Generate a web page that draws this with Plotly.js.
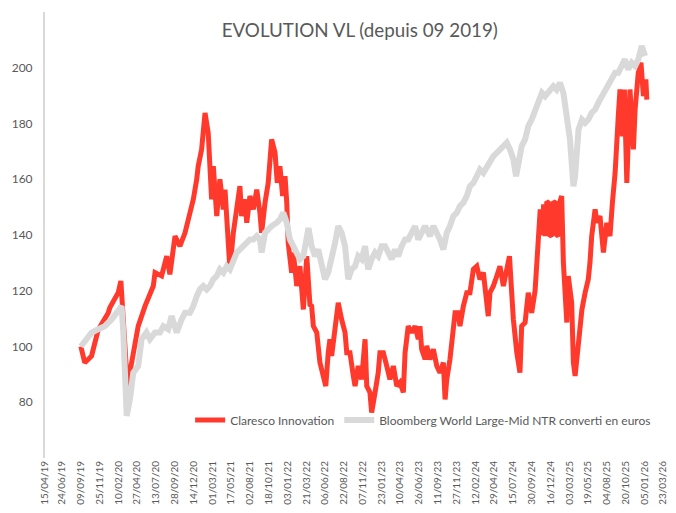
<!DOCTYPE html>
<html>
<head>
<meta charset="utf-8">
<script src="https://cdn.plot.ly/plotly-3.0.1.min.js"></script>
<style>
html,body{margin:0;padding:0;overflow:hidden;background:#fff;}
#chart{width:700px;height:513px;}
</style>
</head>
<body>
<div id="chart"></div>
<script>
// Claresco Innovation
const redDates = ["2019-09-09","2019-09-25","2019-10-23","2019-11-19","2019-12-30","2020-01-06","2020-02-09","2020-02-20","2020-03-18","2020-04-11","2020-05-01","2020-05-29","2020-07-02","2020-07-09","2020-08-05","2020-08-26","2020-09-08","2020-09-29","2020-10-19","2020-11-09","2020-11-22","2020-12-13","2020-12-27","2021-01-02","2021-01-16","2021-01-30","2021-02-12","2021-02-19","2021-02-26","2021-03-05","2021-03-19","2021-04-01","2021-04-15","2021-04-22","2021-05-05","2021-05-12","2021-05-26","2021-06-09","2021-06-22","2021-06-29","2021-07-13","2021-07-20","2021-08-02","2021-08-16","2021-08-30","2021-09-12","2021-09-19","2021-10-03","2021-10-16","2021-10-30","2021-11-13","2021-11-22","2021-12-03","2021-12-14","2021-12-24","2021-12-31","2022-01-06","2022-01-20","2022-01-27","2022-02-10","2022-02-23","2022-03-09","2022-03-23","2022-04-05","2022-04-12","2022-04-19","2022-05-03","2022-05-16","2022-05-30","2022-06-09","2022-06-19","2022-06-26","2022-07-03","2022-07-17","2022-07-30","2022-08-13","2022-08-27","2022-09-03","2022-09-16","2022-09-30","2022-10-07","2022-10-20","2022-11-03","2022-11-17","2022-11-24","2022-12-07","2022-12-14","2022-12-28","2023-01-10","2023-01-17","2023-01-31","2023-02-14","2023-02-27","2023-03-13","2023-03-27","2023-04-09","2023-04-23","2023-04-30","2023-05-13","2023-05-27","2023-06-10","2023-06-23","2023-06-30","2023-07-07","2023-07-21","2023-07-28","2023-08-10","2023-08-24","2023-09-07","2023-09-20","2023-10-04","2023-10-11","2023-10-18","2023-10-31","2023-11-07","2023-11-14","2023-11-21","2023-12-04","2023-12-11","2023-12-25","2024-01-08","2024-01-21","2024-02-04","2024-02-18","2024-03-02","2024-03-16","2024-03-30","2024-04-05","2024-04-12","2024-04-26","2024-05-10","2024-05-23","2024-06-06","2024-06-20","2024-07-01","2024-07-10","2024-07-17","2024-07-31","2024-08-13","2024-08-20","2024-09-03","2024-09-16","2024-09-30","2024-10-14","2024-10-21","2024-10-28","2024-11-04","2024-11-12","2024-11-18","2024-11-24","2024-12-01","2024-12-07","2024-12-14","2024-12-21","2024-12-28","2025-01-04","2025-01-11","2025-01-17","2025-01-24","2025-01-31","2025-02-07","2025-02-21","2025-02-27","2025-03-13","2025-03-20","2025-03-27","2025-04-10","2025-04-24","2025-05-07","2025-05-20","2025-05-27","2025-06-03","2025-06-17","2025-06-24","2025-07-07","2025-07-21","2025-08-04","2025-08-17","2025-08-27","2025-09-07","2025-09-20","2025-09-27","2025-10-07","2025-10-15","2025-10-25","2025-11-07","2025-11-21","2025-11-28","2025-12-11","2025-12-22","2026-01-01","2026-01-11","2026-01-15"];
const redVals = [100,94.2,96.6,106,112,114,119.3,123.5,85.8,97.8,107.3,114.5,121.7,126.5,125.3,132.4,125.9,139.6,136,140.8,145.6,152.8,160,164.7,170.7,183.8,176.7,164.7,152.8,164.7,146.8,160,149.2,156.3,138.4,127.7,140.8,149.2,157.5,146.8,152.8,144.4,154,149.2,156.3,148,140.8,151.6,158.7,174.3,169.5,158.7,164.7,154,161.1,151.6,137.2,126.5,133.7,121.7,128.8,113.3,132.4,115,114.5,107.3,105,94.2,89.4,85.8,97.8,102.6,96.6,107.3,115.7,109.7,105,97.8,97.8,89.4,85.8,93,88.2,102.6,85.8,83.5,76.3,83.5,90.6,97.8,97.8,93,88.2,93,85.8,87.1,83.5,97.8,107.3,105,107.3,102.6,107.3,99,95.4,100.2,95.4,99,93,90.6,94.2,81,88.2,95.4,101.4,106.2,112.1,112.1,107.3,114.5,119.3,119.3,127.7,128.8,124.1,126.5,114.5,110.9,119.3,121.7,125.3,128.8,121.7,128.8,132.4,119.3,109.7,97.8,90.6,107.3,108.6,119.3,112.1,120,132,143.2,149.2,140,151,139.6,152,151.6,140,139.6,152,151.6,140,139.6,152,154,130.1,108.6,125.3,115.7,94.2,89.4,103.8,113.3,119.3,124.1,130.1,139.6,149.2,144.4,146.8,133.7,144.4,139.6,151.6,162.3,182.6,192.2,175.4,192.2,158.7,192.2,170.7,185,198.2,201.8,189.8,195.8,188.6];

// Bloomberg World Large-Mid NTR converti en euros
const grayDates = ["2019-09-09","2019-10-03","2019-10-23","2019-11-19","2019-12-16","2020-01-13","2020-02-09","2020-02-23","2020-03-01","2020-03-08","2020-03-15","2020-03-28","2020-04-11","2020-05-01","2020-05-15","2020-06-04","2020-06-18","2020-07-09","2020-07-29","2020-08-12","2020-09-01","2020-09-15","2020-10-06","2020-10-26","2020-11-09","2020-11-29","2020-12-13","2020-12-27","2021-01-09","2021-01-23","2021-02-06","2021-02-19","2021-03-05","2021-03-19","2021-04-01","2021-04-15","2021-04-29","2021-05-12","2021-05-26","2021-06-09","2021-06-22","2021-07-06","2021-07-20","2021-08-02","2021-08-16","2021-08-30","2021-09-12","2021-09-19","2021-10-03","2021-10-16","2021-10-30","2021-11-20","2021-12-03","2021-12-17","2021-12-31","2022-01-13","2022-01-27","2022-02-10","2022-02-23","2022-03-09","2022-03-23","2022-03-30","2022-04-12","2022-04-26","2022-05-09","2022-05-23","2022-06-06","2022-06-19","2022-07-03","2022-07-17","2022-07-30","2022-08-13","2022-08-27","2022-09-09","2022-09-23","2022-10-07","2022-10-20","2022-11-03","2022-11-17","2022-11-30","2022-12-14","2022-12-28","2023-01-10","2023-01-24","2023-02-07","2023-02-20","2023-03-06","2023-03-20","2023-04-02","2023-04-16","2023-04-30","2023-05-13","2023-05-27","2023-06-10","2023-06-23","2023-07-07","2023-07-21","2023-07-28","2023-08-10","2023-08-24","2023-09-07","2023-09-20","2023-10-04","2023-10-18","2023-10-31","2023-11-14","2023-11-28","2023-12-11","2023-12-25","2024-01-08","2024-01-21","2024-02-04","2024-02-18","2024-03-02","2024-03-16","2024-03-30","2024-04-12","2024-04-26","2024-05-10","2024-05-23","2024-06-06","2024-06-20","2024-07-03","2024-07-17","2024-07-28","2024-08-07","2024-08-20","2024-09-03","2024-09-16","2024-09-30","2024-10-14","2024-10-28","2024-11-11","2024-11-24","2024-12-14","2024-12-28","2025-01-10","2025-01-24","2025-02-07","2025-02-21","2025-03-06","2025-03-20","2025-03-27","2025-04-10","2025-04-24","2025-05-07","2025-05-20","2025-06-03","2025-06-17","2025-06-30","2025-07-14","2025-07-28","2025-08-10","2025-08-24","2025-09-07","2025-09-20","2025-10-04","2025-10-17","2025-10-31","2025-11-14","2025-11-28","2025-12-11","2025-12-25","2026-01-08"];
const grayVals = [100,102.6,105,106.2,107.3,109.7,113.3,114.5,105,83.5,75.1,81,90.6,93,102.6,105,102.6,105,105,107.3,106.2,110.9,105,109.7,112.1,112.1,114.5,118.1,120.5,121.7,120.5,121.7,124.1,125.3,127.7,126.5,128.8,127.7,131.3,133.7,134.8,136,137.2,138.4,138.4,139.6,138.4,133.7,140.8,142,143.2,144.4,145.6,148,144.4,138.4,136,133.7,131.3,132.4,138.4,142.5,136,132.4,134.8,128.8,124.1,126.5,131.3,137.2,143.2,140.8,136,124.1,127.7,128.8,132.4,131.3,136,127.7,131.3,133.7,132.4,136,136,133.7,131.3,134.8,132.4,136,138.4,138.4,140.8,143.2,138.4,140.8,143.2,142,139.6,143.2,140.8,138.4,134.8,140.8,143.2,146.8,148,150.4,151.6,154,157.5,158.7,161.1,163.5,162.3,164.7,165.9,168.3,169.5,170.7,171.9,173.1,170.7,167.1,161.1,167.1,171.9,174.3,179,181.4,185,188.5,191,189.8,192.2,193.4,192.2,194.6,191,180.2,174.3,157.5,161.1,177.8,181.4,180.2,181.4,183.8,185,187.4,189.8,192.2,193.4,195.8,198.2,198.2,200.6,203,199.4,201.8,200.6,203,207.8,204.2];

// Axis ticks
const xTickDates = ["2019-04-15","2019-06-24","2019-09-09","2019-11-25","2020-02-10","2020-04-27","2020-07-13","2020-09-28","2020-12-14","2021-03-01","2021-05-17","2021-08-02","2021-10-18","2022-01-03","2022-03-21","2022-06-06","2022-08-22","2022-11-07","2023-01-23","2023-04-10","2023-06-26","2023-09-11","2023-11-27","2024-02-12","2024-04-29","2024-07-15","2024-09-30","2024-12-16","2025-03-03","2025-05-19","2025-08-04","2025-10-20","2026-01-05","2026-03-23","2026-06-08"];
const xTickLabels = ["15/04/19","24/06/19","09/09/19","25/11/19","10/02/20","27/04/20","13/07/20","28/09/20","14/12/20","01/03/21","17/05/21","02/08/21","18/10/21","03/01/22","21/03/22","06/06/22","22/08/22","07/11/22","23/01/23","10/04/23","26/06/23","11/09/23","27/11/23","12/02/24","29/04/24","15/07/24","30/09/24","16/12/24","03/03/25","19/05/25","04/08/25","20/10/25","05/01/26","23/03/26","08/06/26"];
const yTicks = [80,100,120,140,160,180,200];

const seriesNames = ["Claresco Innovation","Bloomberg World Large-Mid NTR converti en euros"];
const FONT = "Lato, 'Liberation Sans', sans-serif";
const TXT = "#595959";

const traces = [
  {x: redDates, y: redVals, type: "scatter", mode: "lines", name: seriesNames[0],
   line: {color: "#FF3A2C", width: 5}},
  {x: grayDates, y: grayVals, type: "scatter", mode: "lines", name: seriesNames[1],
   line: {color: "#D9D9D9", width: 6}}
];

const layout = {
  width: 700, height: 513,
  margin: {l: 45, r: 10, t: 12, b: 55},
  paper_bgcolor: "#fff", plot_bgcolor: "#fff",
  font: {family: FONT, color: TXT},
  title: {text: "EVOLUTION VL (depuis 09 2019)", font: {size: 18.8, color: TXT, family: FONT},
          xref: "paper", x: 0.488, xanchor: "center", yref: "container", y: 0.94, yanchor: "middle"},
  xaxis: {type: "date", range: ["2019-04-15", "2026-07-11"], tickmode: "array",
          tickvals: xTickDates, ticktext: xTickLabels, tickangle: -90,
          tickfont: {size: 10, color: TXT, family: FONT}, showgrid: false, zeroline: false,
          showline: false, ticks: ""},
  yaxis: {range: [60, 220], tickmode: "array", tickvals: yTicks, showgrid: false, zeroline: false,
          showline: true, linecolor: "#D9D9D9", linewidth: 2, ticks: "",
          tickfont: {size: 12, color: TXT, family: FONT}, ticklabelstandoff: 8},
  showlegend: true,
  legend: {orientation: "h", x: 0.225, xanchor: "left", y: 0.085, yanchor: "middle",
           font: {size: 12, color: TXT, family: FONT}, bgcolor: "rgba(0,0,0,0)", traceorder: "normal"}
};

Plotly.newPlot("chart", traces, layout, {displayModeBar: false, staticPlot: true});
</script>
</body>
</html>
